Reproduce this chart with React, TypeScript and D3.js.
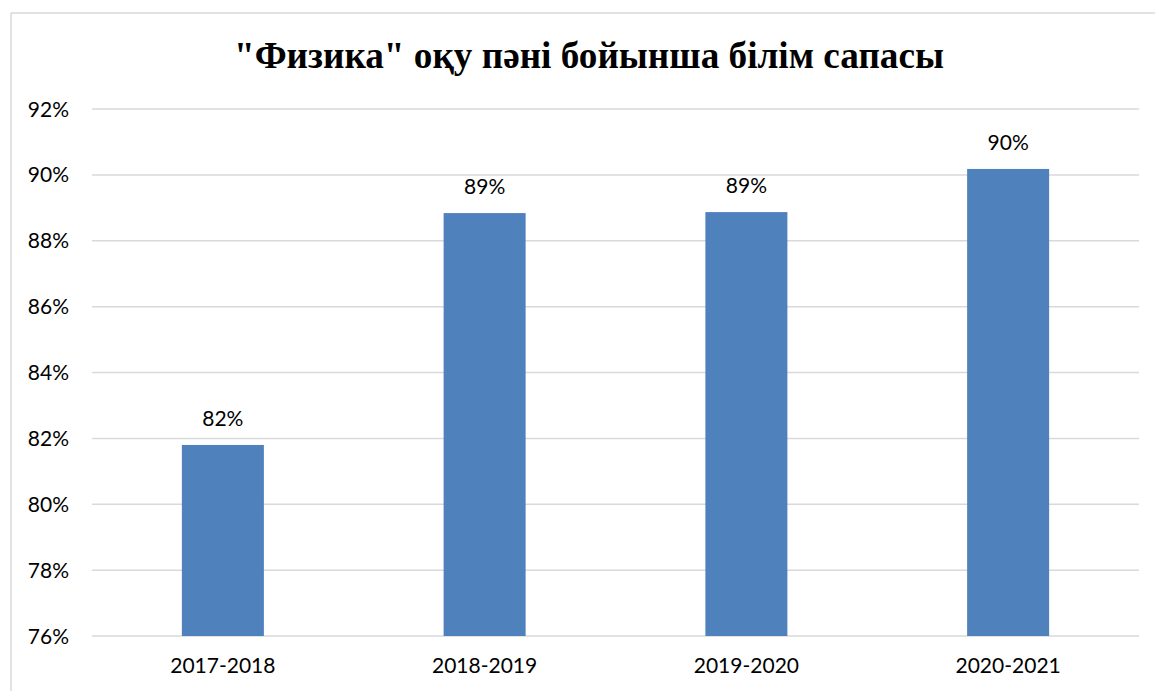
import React from "react";
import * as d3 from "d3";

const categories = ["2017-2018", "2018-2019", "2019-2020", "2020-2021"];
const values = [0.818, 0.8884, 0.8887, 0.9018];
const labels = ["82%", "89%", "89%", "90%"];
const yTicks = [0.76, 0.78, 0.8, 0.82, 0.84, 0.86, 0.88, 0.9, 0.92];
const title = "\"Физика\" оқу пәні бойынша білім сапасы";

const W = 1155;
const H = 691;
const plot = { left: 92, right: 1139, top: 109, bottom: 636 };

export default function App() {
  const x = d3
    .scaleBand<string>()
    .domain(categories)
    .range([plot.left, plot.right])
    .paddingInner(0.6867)
    .paddingOuter(0.3433);
  const y = d3.scaleLinear().domain([0.76, 0.92]).range([plot.bottom, plot.top]);
  const fmt = d3.format(".0%");
  const font = "Lato, 'Open Sans', sans-serif";

  return (
    <svg
      width={W}
      height={H}
      style={{ position: "fixed", left: 0, top: 0, background: "#fff" }}
    >
      <rect x={0} y={0} width={W} height={H} fill="#fff" />
      <line x1={11} y1={13} x2={W} y2={13} stroke="#d9d9d9" strokeWidth={1.5} />
      <line x1={11} y1={13} x2={11} y2={H} stroke="#d9d9d9" strokeWidth={1.5} />
      <text
        x={589}
        y={68}
        textAnchor="middle"
        fontFamily="'Liberation Serif', 'Times New Roman', serif"
        fontWeight="bold"
        fontSize={37.2}
        fill="#000"
      >
        {title}
      </text>
      {yTicks.map((t) => (
        <g key={t}>
          <line
            x1={plot.left}
            x2={plot.right}
            y1={y(t)}
            y2={y(t)}
            stroke="#d9d9d9"
            strokeWidth={1.5}
          />
          <text
            x={69}
            y={y(t) + 7.5}
            textAnchor="end"
            fontFamily={font}
            fontSize={21}
            fill="#000"
          >
            {fmt(t)}
          </text>
        </g>
      ))}
      {categories.map((c, i) => (
        <g key={c}>
          <rect
            x={x(c)}
            y={y(values[i])}
            width={x.bandwidth()}
            height={plot.bottom - y(values[i])}
            fill="#4f81bd"
          />
          <text
            x={(x(c) as number) + x.bandwidth() / 2}
            y={y(values[i]) - 19}
            textAnchor="middle"
            fontFamily={font}
            fontSize={21}
            fill="#000"
          >
            {labels[i]}
          </text>
          <text
            x={(x(c) as number) + x.bandwidth() / 2}
            y={673}
            textAnchor="middle"
            fontFamily={font}
            fontSize={21}
            fill="#000"
          >
            {c}
          </text>
        </g>
      ))}
    </svg>
  );
}
